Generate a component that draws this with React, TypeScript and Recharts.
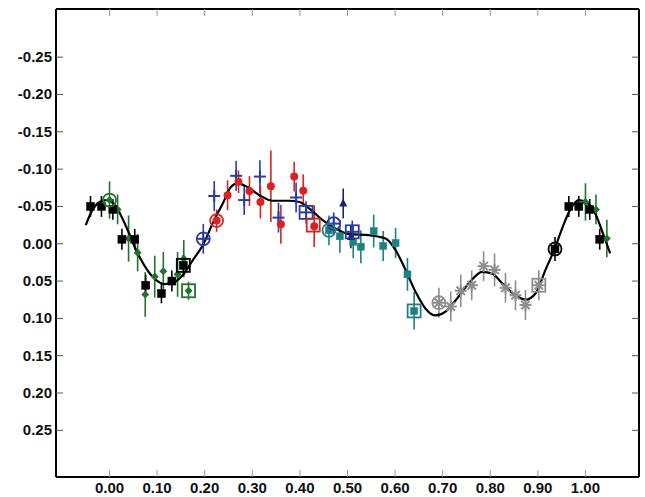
import { ComposedChart, Scatter, Line, XAxis, YAxis, ErrorBar } from 'recharts'

// phase / value / error (y axis is inverted)
const curve = [
  { x: -0.05, y: -0.025 }, { x: -0.038, y: -0.043 }, { x: -0.021, y: -0.056 }, { x: -0.007, y: -0.0585 },
  { x: 0.014, y: -0.0495 }, { x: 0.035, y: -0.0227 }, { x: 0.056, y: 0.0086 }, { x: 0.077, y: 0.033 },
  { x: 0.098, y: 0.0488 }, { x: 0.115, y: 0.054 }, { x: 0.133, y: 0.0525 }, { x: 0.154, y: 0.042 },
  { x: 0.175, y: 0.022 }, { x: 0.196, y: 0.002 }, { x: 0.22, y: -0.032 }, { x: 0.238, y: -0.054 },
  { x: 0.255, y: -0.076 }, { x: 0.269, y: -0.081 }, { x: 0.29, y: -0.076 }, { x: 0.315, y: -0.065 },
  { x: 0.343, y: -0.0576 }, { x: 0.378, y: -0.0576 }, { x: 0.399, y: -0.056 }, { x: 0.42, y: -0.047 },
  { x: 0.447, y: -0.032 }, { x: 0.475, y: -0.0205 }, { x: 0.503, y: -0.013 }, { x: 0.545, y: -0.0115 },
  { x: 0.58, y: -0.007 }, { x: 0.601, y: 0.0086 }, { x: 0.619, y: 0.031 }, { x: 0.643, y: 0.0645 },
  { x: 0.664, y: 0.087 }, { x: 0.685, y: 0.096 }, { x: 0.706, y: 0.091 }, { x: 0.727, y: 0.076 },
  { x: 0.755, y: 0.053 }, { x: 0.783, y: 0.0377 }, { x: 0.804, y: 0.04 }, { x: 0.825, y: 0.053 },
  { x: 0.853, y: 0.069 }, { x: 0.874, y: 0.075 }, { x: 0.895, y: 0.0667 }, { x: 0.916, y: 0.035 },
  { x: 0.937, y: 0.004 }, { x: 0.951, y: -0.0205 }, { x: 0.969, y: -0.047 }, { x: 0.986, y: -0.0585 },
  { x: 1.003, y: -0.055 }, { x: 1.021, y: -0.04 }, { x: 1.038, y: -0.0115 }, { x: 1.052, y: 0.013 },
]

const blackPts = [
  { x: -0.04, y: -0.05, e: 0.014 }, { x: -0.017, y: -0.05, e: 0.014 }, { x: 0.007, y: -0.046, e: 0.014 },
  { x: 0.026, y: -0.006, e: 0.014 }, { x: 0.053, y: -0.006, e: 0.014 }, { x: 0.076, y: 0.0556, e: 0.014 },
  { x: 0.109, y: 0.0667, e: 0.013 }, { x: 0.131, y: 0.05, e: 0.014 }, { x: 0.155, y: 0.029, e: 0.014 },
  { x: 0.936, y: 0.007, e: 0.016 }, { x: 0.965, y: -0.05, e: 0.014 }, { x: 0.986, y: -0.05, e: 0.014 },
  { x: 1.009, y: -0.046, e: 0.014 }, { x: 1.03, y: -0.006, e: 0.014 },
]
const greenPts = [
  { x: 0.0, y: -0.0585, e: 0.025 }, { x: 0.017, y: -0.046, e: 0.02 }, { x: 0.04, y: -0.007, e: 0.031 },
  { x: 0.059, y: 0.012, e: 0.025 }, { x: 0.075, y: 0.068, e: 0.03 }, { x: 0.095, y: 0.044, e: 0.028 },
  { x: 0.113, y: 0.037, e: 0.026 }, { x: 0.143, y: 0.041, e: 0.03 }, { x: 0.156, y: 0.02, e: 0.025 },
  { x: 0.166, y: 0.063, e: 0.012 }, { x: 1.0, y: -0.056, e: 0.025 }, { x: 1.022, y: -0.046, e: 0.02 },
  { x: 1.045, y: -0.007, e: 0.025 },
]
const bluePts = [
  { x: 0.197, y: -0.0066, e: 0.02 }, { x: 0.22, y: -0.064, e: 0.02 }, { x: 0.266, y: -0.091, e: 0.02 },
  { x: 0.283, y: -0.0585, e: 0.02 }, { x: 0.316, y: -0.09, e: 0.022 }, { x: 0.355, y: -0.035, e: 0.02 },
  { x: 0.392, y: -0.062, e: 0.02 }, { x: 0.413, y: -0.042, e: 0.015 }, { x: 0.471, y: -0.027, e: 0.015 },
  { x: 0.51, y: -0.016, e: 0.015 },
]
const redPts = [
  { x: 0.225, y: -0.031, e: 0.015 }, { x: 0.248, y: -0.065, e: 0.02 }, { x: 0.271, y: -0.083, e: 0.015 },
  { x: 0.294, y: -0.0706, e: 0.02 }, { x: 0.317, y: -0.056, e: 0.022 }, { x: 0.339, y: -0.077, e: 0.048 },
  { x: 0.36, y: -0.026, e: 0.026 }, { x: 0.388, y: -0.09, e: 0.02 }, { x: 0.407, y: -0.071, e: 0.022 },
  { x: 0.43, y: -0.0236, e: 0.028 },
]
const navyPts = [
  { x: 0.491, y: -0.054, e: 0.02 }, { x: 0.507, y: -0.009, e: 0.015 },
]
const tealPts = [
  { x: 0.461, y: -0.018, e: 0.02 }, { x: 0.484, y: -0.01, e: 0.022 }, { x: 0.512, y: -0.0026, e: 0.022 },
  { x: 0.528, y: 0.004, e: 0.022 }, { x: 0.555, y: -0.017, e: 0.022 }, { x: 0.575, y: 0.003, e: 0.02 },
  { x: 0.601, y: -0.001, e: 0.02 }, { x: 0.626, y: 0.041, e: 0.022 }, { x: 0.64, y: 0.09, e: 0.025 },
]
const grayPts = [
  { x: 0.692, y: 0.079, e: 0.02 }, { x: 0.717, y: 0.084, e: 0.02 }, { x: 0.738, y: 0.063, e: 0.022 },
  { x: 0.761, y: 0.0556, e: 0.02 }, { x: 0.786, y: 0.03, e: 0.02 }, { x: 0.809, y: 0.035, e: 0.022 },
  { x: 0.832, y: 0.059, e: 0.02 }, { x: 0.853, y: 0.069, e: 0.02 }, { x: 0.874, y: 0.082, e: 0.02 },
  { x: 0.902, y: 0.0556, e: 0.02 },
]

// highlighted points (open rings and open boxes)
const blackRing = [{ x: 0.936, y: 0.007 }]
const greenRing = [{ x: 0.0, y: -0.0585 }]
const blueRing = [{ x: 0.197, y: -0.0066 }, { x: 0.471, y: -0.027 }]
const redRing = [{ x: 0.225, y: -0.031 }]
const tealRing = [{ x: 0.461, y: -0.018 }]
const grayRing = [{ x: 0.692, y: 0.079 }]
const blackBox = [{ x: 0.155, y: 0.029 }]
const greenBox = [{ x: 0.166, y: 0.063 }]
const blueBox = [{ x: 0.413, y: -0.042 }, { x: 0.51, y: -0.016 }]
const redBox = [{ x: 0.428, y: -0.025 }]
const tealBox = [{ x: 0.64, y: 0.09 }]
const grayBox = [{ x: 0.902, y: 0.0556 }]

const xTicks = [0, 0.1, 0.2, 0.3, 0.4, 0.5, 0.6, 0.7, 0.8, 0.9, 1.0]
const yTicks = [-0.25, -0.2, -0.15, -0.1, -0.05, 0, 0.05, 0.1, 0.15, 0.2, 0.25]

const BLACK = '#000000'
const GREEN = '#22742c'
const BLUE = '#2c3ba3'
const RED = '#d92323'
const NAVY = '#1b2070'
const TEAL = '#1f8080'
const GRAY = '#8e8e8e'

const FONT = '"Liberation Sans", Arial, sans-serif'

type SP = { cx?: number; cy?: number }

const square = (c: string, s: number) => (p: SP) =>
  <rect x={(p.cx ?? 0) - s / 2} y={(p.cy ?? 0) - s / 2} width={s} height={s} fill={c} stroke={c} strokeWidth={0.5} />

const diamond = (c: string, s: number) => (p: SP) => {
  const x = p.cx ?? 0, y = p.cy ?? 0
  return <polygon points={`${x},${y - s} ${x + s},${y} ${x},${y + s} ${x - s},${y}`} fill={c} />
}

const dot = (c: string, r: number) => (p: SP) =>
  <circle cx={p.cx} cy={p.cy} r={r} fill={c} />

const plus = (c: string, s: number) => (p: SP) => {
  const x = p.cx ?? 0, y = p.cy ?? 0
  return (
    <g stroke={c} strokeWidth={2}>
      <line x1={x - s} y1={y} x2={x + s} y2={y} />
      <line x1={x} y1={y - s} x2={x} y2={y + s} />
    </g>
  )
}

const triangle = (c: string, s: number) => (p: SP) => {
  const x = p.cx ?? 0, y = p.cy ?? 0
  return <polygon points={`${x},${y - s} ${x + s * 0.8},${y + s * 0.6} ${x - s * 0.8},${y + s * 0.6}`} fill={c} />
}

const star = (c: string, s: number) => (p: SP) => {
  const x = p.cx ?? 0, y = p.cy ?? 0
  const d = s * 0.707
  return (
    <g stroke={c} strokeWidth={2}>
      <line x1={x - s} y1={y} x2={x + s} y2={y} />
      <line x1={x} y1={y - s} x2={x} y2={y + s} />
      <line x1={x - d} y1={y - d} x2={x + d} y2={y + d} />
      <line x1={x - d} y1={y + d} x2={x + d} y2={y - d} />
    </g>
  )
}

const ring = (c: string, r: number) => (p: SP) =>
  <circle cx={p.cx} cy={p.cy} r={r} fill="none" stroke={c} strokeWidth={1.8} />

const box = (c: string, s: number) => (p: SP) =>
  <rect x={(p.cx ?? 0) - s / 2} y={(p.cy ?? 0) - s / 2} width={s} height={s} fill="none" stroke={c} strokeWidth={1.8} />

type TP = { x?: number; y?: number; payload?: { value: number } }

const BottomTick = (p: TP) => {
  const x = p.x ?? 0, y = p.y ?? 0
  return (
    <g>
      <line x1={x} y1={y} x2={x} y2={y - 7} stroke="#999" strokeWidth={1} />
      <text x={x} y={y + 16} textAnchor="middle" fontFamily={FONT} fontWeight="bold" fontSize={15} fill="#111">
        {(p.payload?.value ?? 0).toFixed(2)}
      </text>
    </g>
  )
}
const TopTick = (p: TP) => {
  const x = p.x ?? 0, y = p.y ?? 0
  return <line x1={x} y1={y} x2={x} y2={y + 7} stroke="#999" strokeWidth={1} />
}
const LeftTick = (p: TP) => {
  const x = p.x ?? 0, y = p.y ?? 0
  return (
    <g>
      <line x1={x} y1={y} x2={x + 7} y2={y} stroke="#555" strokeWidth={1} />
      <text x={x - 4} y={y + 5} textAnchor="end" fontFamily={FONT} fontWeight="bold" fontSize={15} fill="#111">
        {(p.payload?.value ?? 0).toFixed(2)}
      </text>
    </g>
  )
}
const RightTick = (p: TP) => {
  const x = p.x ?? 0, y = p.y ?? 0
  return <line x1={x} y1={y} x2={x - 7} y2={y} stroke="#555" strokeWidth={1} />
}

const X_DOMAIN: [number, number] = [-0.1125, 1.1125]
const Y_DOMAIN: [number, number] = [-0.3145, 0.3125]

export default function App() {
  const ax = { xAxisId: 'b', yAxisId: 'l', isAnimationActive: false }
  const eb = (c: string) => <ErrorBar dataKey="e" direction="y" width={0} stroke={c} strokeWidth={1.6} />
  return (
    <div style={{ position: 'absolute', left: 0, top: 0, background: '#fff' }}>
      <ComposedChart width={645} height={497} margin={{ top: 8, right: 5, left: 0, bottom: 0 }}>
        <XAxis xAxisId="b" dataKey="x" type="number" domain={X_DOMAIN} ticks={xTicks} allowDataOverflow
          height={20} tickSize={0} tickMargin={0} tick={BottomTick} axisLine={{ stroke: '#000', strokeWidth: 2 }} tickLine={false} interval={0} />
        <XAxis xAxisId="t" dataKey="x" type="number" orientation="top" domain={X_DOMAIN} ticks={xTicks} allowDataOverflow
          height={1} tickSize={0} tickMargin={0} tick={TopTick} axisLine={{ stroke: '#000', strokeWidth: 2 }} tickLine={false} interval={0} />
        <YAxis yAxisId="l" dataKey="y" type="number" domain={Y_DOMAIN} ticks={yTicks} reversed allowDataOverflow
          width={56} tickSize={0} tickMargin={0} tick={LeftTick} axisLine={{ stroke: '#000', strokeWidth: 2 }} tickLine={false} interval={0} />
        <YAxis yAxisId="r" dataKey="y" type="number" orientation="right" domain={Y_DOMAIN} ticks={yTicks} reversed allowDataOverflow
          width={1} tickSize={0} tickMargin={0} tick={RightTick} axisLine={{ stroke: '#000', strokeWidth: 2 }} tickLine={false} interval={0} />

        <Scatter {...ax} data={greenPts} shape={diamond(GREEN, 4)}>{eb(GREEN)}</Scatter>
        <Scatter {...ax} data={grayPts} shape={star(GRAY, 6)}>{eb(GRAY)}</Scatter>
        <Scatter {...ax} data={tealPts} shape={square(TEAL, 7)}>{eb(TEAL)}</Scatter>
        <Scatter {...ax} data={bluePts} shape={plus(BLUE, 6)}>{eb(BLUE)}</Scatter>
        <Scatter {...ax} data={redPts} shape={dot(RED, 4)}>{eb(RED)}</Scatter>
        <Scatter {...ax} data={navyPts} shape={triangle(NAVY, 5)}>{eb(NAVY)}</Scatter>
        <Scatter {...ax} data={blackPts} shape={square(BLACK, 8)}>{eb(BLACK)}</Scatter>

        <Line {...ax} data={curve} dataKey="y" type="monotone" stroke="#000" strokeWidth={2.2} dot={false} />

        <Scatter {...ax} data={blackRing} shape={ring(BLACK, 6.5)} />
        <Scatter {...ax} data={greenRing} shape={ring(GREEN, 6.5)} />
        <Scatter {...ax} data={blueRing} shape={ring(BLUE, 6.5)} />
        <Scatter {...ax} data={redRing} shape={ring(RED, 6.5)} />
        <Scatter {...ax} data={tealRing} shape={ring(TEAL, 6.5)} />
        <Scatter {...ax} data={grayRing} shape={ring(GRAY, 6.5)} />
        <Scatter {...ax} data={blackBox} shape={box(BLACK, 13)} />
        <Scatter {...ax} data={greenBox} shape={box(GREEN, 13)} />
        <Scatter {...ax} data={blueBox} shape={box(BLUE, 13)} />
        <Scatter {...ax} data={redBox} shape={box(RED, 13)} />
        <Scatter {...ax} data={tealBox} shape={box(TEAL, 13)} />
        <Scatter {...ax} data={grayBox} shape={box(GRAY, 13)} />
      </ComposedChart>
    </div>
  )
}
